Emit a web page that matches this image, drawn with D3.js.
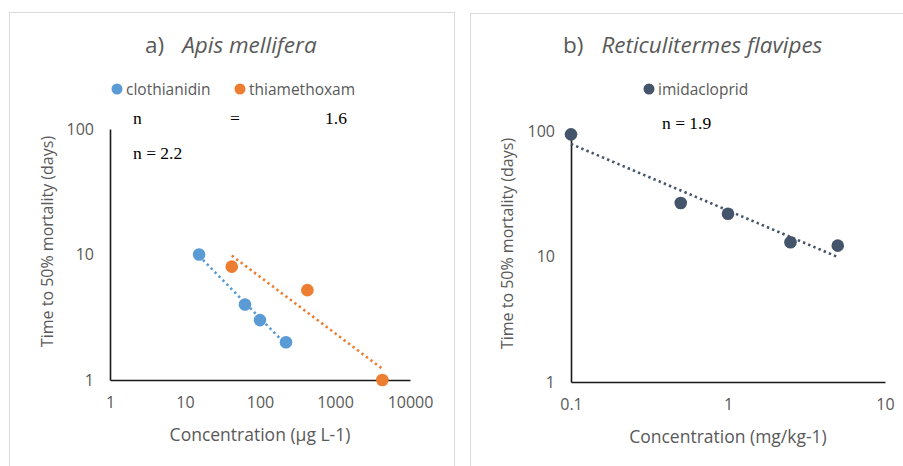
<!DOCTYPE html>
<html>
<head>
<meta charset="utf-8">
<script src="https://cdn.jsdelivr.net/npm/d3@7"></script>
<style>
  body { margin: 0; background: #fff; }
  svg { display: block; font-family: "Open Sans", sans-serif; }
</style>
</head>
<body>
<svg id="chart" width="903" height="466"></svg>
<script>
// ---------- data ----------
const clothianidinConc = [15.4, 63, 100, 222];
const clothianidinDays = [10, 4, 3, 2];
const thiamethoxamConc = [42, 428, 4275];
const thiamethoxamDays = [8, 5.2, 1];
const imidaclopridConc = [0.1, 0.5, 1, 2.5, 5];
const imidaclopridDays = [94, 26.7, 21.9, 13, 12.2];

const ticksA_x = [1, 10, 100, 1000, 10000];
const ticksB_x = [0.1, 1, 10];
const ticksY = [1, 10, 100];

const svg = d3.select("#chart");

// ---------- helpers ----------
function fitPower(xs, ys) {
  // least squares on log10 values, like Excel's power trendline
  const lx = xs.map(Math.log10), ly = ys.map(Math.log10);
  const mx = d3.mean(lx), my = d3.mean(ly);
  const slope = d3.sum(lx, (v, i) => (v - mx) * (ly[i] - my)) / d3.sum(lx, v => (v - mx) * (v - mx));
  const b = my - slope * mx;
  return x => Math.pow(10, b + slope * Math.log10(x));
}

function panel(cfg) {
  const g = svg.append("g");

  // frame
  g.append("rect")
    .attr("x", cfg.frame[0]).attr("y", cfg.frame[1])
    .attr("width", cfg.frame[2]).attr("height", cfg.frame[3])
    .attr("fill", "none").attr("stroke", "#d9d9d9").attr("stroke-width", 1);

  const x = d3.scaleLog().domain(cfg.xDomain).range(cfg.xRange);
  const y = d3.scaleLog().domain([1, 100]).range(cfg.yRange);

  // axes
  const ax = g.append("g").attr("transform", "translate(0," + cfg.yRange[0] + ")")
    .call(d3.axisBottom(x).tickValues(cfg.xTicks).tickFormat(d => d).tickSize(0).tickPadding(17));
  const ay = g.append("g").attr("transform", "translate(" + cfg.xRange[0] + ",0)")
    .call(d3.axisLeft(y).tickValues(ticksY).tickFormat(d => d).tickSize(0).tickPadding(16));
  [ax, ay].forEach(a => {
    a.select(".domain").attr("stroke", "#1a1a1a").attr("stroke-width", 1.6);
    a.selectAll("text").attr("fill", "#595959").style("font-size", "16px").style("font-family", "Open Sans");
  });

  // axis titles
  g.append("text")
    .attr("x", d3.mean(cfg.xRange)).attr("y", cfg.yRange[0] + 61)
    .attr("text-anchor", "middle").attr("fill", "#595959").style("font-size", "17.5px")
    .text(cfg.xTitle);
  g.append("text")
    .attr("transform", "translate(" + cfg.yTitleX + "," + (d3.mean(cfg.yRange) - 13) + ") rotate(-90)")
    .attr("text-anchor", "middle").attr("fill", "#595959").style("font-size", "16px")
    .text("Time to 50% mortality (days)");

  // title
  const t = g.append("text").attr("x", cfg.titleX).attr("y", 53)
    .attr("fill", "#595959").style("font-size", "22.5px");
  t.append("tspan").text(cfg.titleA);
  t.append("tspan").attr("dx", 18).style("font-style", "italic").text(cfg.titleB);

  // series
  cfg.series.forEach(s => {
    const f = fitPower(s.conc, s.days);
    const x0 = d3.min(s.conc), x1 = d3.max(s.conc);
    g.append("line")
      .attr("x1", x(x0)).attr("y1", y(f(x0)))
      .attr("x2", x(x1)).attr("y2", y(f(x1)))
      .attr("stroke", s.color).attr("stroke-width", 2.6)
      .attr("stroke-dasharray", "2.4,3.2");
    g.selectAll(null).data(s.conc).enter().append("circle")
      .attr("cx", d => x(d)).attr("cy", (d, i) => y(s.days[i]))
      .attr("r", 6.3).attr("fill", s.color);

    // legend
    g.append("circle").attr("cx", s.legend[0]).attr("cy", 89).attr("r", 5.5).attr("fill", s.color);
    g.append("text").attr("x", s.legend[0] + 9).attr("y", 94.5)
      .attr("fill", "#595959").style("font-size", "15.5px").text(s.name);
  });

  // n labels
  cfg.notes.forEach(n => {
    g.append("text").attr("x", n[0]).attr("y", n[1])
      .attr("fill", "#000").style("font-family", "Liberation Serif").style("font-size", "17.5px")
      .text(n[2]);
  });
}

panel({
  frame: [9.5, 12.5, 445, 470],
  xDomain: [1, 10000], xRange: [110, 410], yRange: [380, 129],
  xTicks: ticksA_x, xTitle: "Concentration (µg L-1)", yTitleX: 53,
  titleX: 145, titleA: "a)", titleB: "Apis mellifera",
  series: [
    { name: "clothianidin", color: "#5b9bd5", conc: clothianidinConc, days: clothianidinDays, legend: [117] },
    { name: "thiamethoxam", color: "#ed7d31", conc: thiamethoxamConc, days: thiamethoxamDays, legend: [240] }
  ],
  notes: [[133, 124, "n"], [230, 124, "="], [325, 124, "1.6"], [133, 159, "n = 2.2"]]
});

panel({
  frame: [470.5, 13.5, 440, 470],
  xDomain: [0.1, 10], xRange: [571, 885], yRange: [382, 131],
  xTicks: ticksB_x, xTitle: "Concentration (mg/kg-1)", yTitleX: 513,
  titleX: 563, titleA: "b)", titleB: "Reticulitermes flavipes",
  series: [
    { name: "imidacloprid", color: "#44546a", conc: imidaclopridConc, days: imidaclopridDays, legend: [649] }
  ],
  notes: [[662, 129, "n = 1.9"]]
});
</script>
</body>
</html>
